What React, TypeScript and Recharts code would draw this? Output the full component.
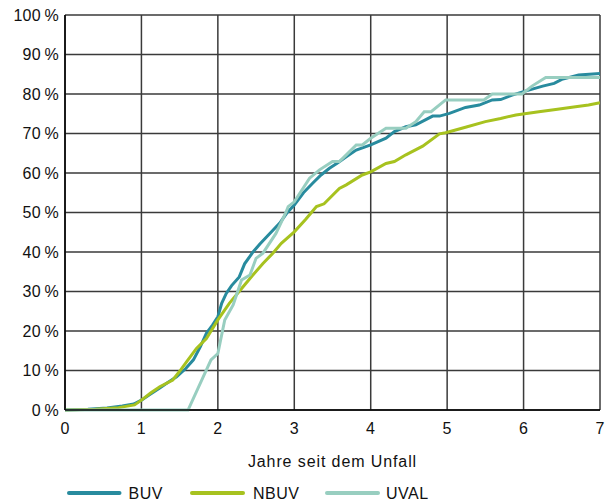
import React from "react";
import {
  CartesianGrid,
  Legend,
  Line,
  LineChart,
  XAxis,
  YAxis,
} from "recharts";

// [years since accident, share in %]
const BUV: [number, number][] = [
  [0, 0], [0.3, 0.2], [0.55, 0.5], [0.75, 1.0], [0.9, 1.5], [1.0, 2.5],
  [1.1, 3.8], [1.24, 5.6], [1.35, 7], [1.46, 8.4], [1.58, 10.5], [1.68, 12.7],
  [1.77, 16], [1.85, 19.4], [1.93, 21.5], [2.0, 23.6], [2.05, 27], [2.11, 29.5],
  [2.18, 31.5], [2.28, 33.7], [2.35, 37], [2.46, 40], [2.55, 42], [2.68, 44.7],
  [2.81, 47.3], [2.9, 49.8], [3.0, 51.9], [3.12, 55], [3.24, 57.4], [3.35, 59.5],
  [3.46, 61.2], [3.57, 62.6], [3.68, 64.1], [3.81, 65.8], [4.0, 67.1], [4.2, 68.8],
  [4.31, 70.5], [4.46, 71.7], [4.59, 72.2], [4.81, 74.4], [4.9, 74.4], [5.03, 75.1],
  [5.24, 76.6], [5.42, 77.2], [5.59, 78.5], [5.7, 78.6], [5.85, 79.7], [6.0, 80.6],
  [6.25, 82], [6.4, 82.7], [6.5, 83.7], [6.72, 84.8], [7.0, 85.2],
];

const NBUV: [number, number][] = [
  [0, 0], [0.4, 0.2], [0.7, 0.6], [0.91, 1.3], [1.0, 2.5], [1.12, 4.3],
  [1.24, 5.9], [1.41, 7.6], [1.5, 9.8], [1.59, 12.2], [1.72, 15.6], [1.85, 18.1],
  [2.0, 22.8], [2.15, 27], [2.33, 31.2], [2.45, 34], [2.59, 37.1], [2.72, 39.7],
  [2.83, 42.2], [3.0, 45.1], [3.15, 48.3], [3.29, 51.5], [3.39, 52.2], [3.59, 56.1],
  [3.68, 57], [3.89, 59.5], [4.0, 60.3], [4.2, 62.4], [4.31, 62.9], [4.46, 64.6],
  [4.68, 66.8], [4.9, 69.9], [4.98, 70.2], [5.24, 71.6], [5.5, 73], [5.7, 73.8],
  [5.9, 74.7], [6.2, 75.5], [6.42, 76.1], [6.68, 76.8], [6.85, 77.2], [7.0, 77.8],
];

const UVAL: [number, number][] = [
  [0, 0], [1.61, 0], [1.91, 12.7], [2.0, 14.3], [2.09, 22.8], [2.2, 26.6],
  [2.31, 32.9], [2.42, 34.2], [2.5, 38.4], [2.59, 39.7], [2.76, 44.7], [2.89, 50],
  [2.92, 51.5], [3.0, 52.7], [3.2, 58.7], [3.33, 60.8], [3.5, 62.9], [3.59, 62.9],
  [3.68, 64.6], [3.81, 67.1], [3.89, 67.1], [4.0, 68.8], [4.2, 71.3], [4.46, 71.3],
  [4.59, 73], [4.7, 75.5], [4.79, 75.5], [4.98, 78.5], [5.48, 78.5], [5.59, 80],
  [5.98, 80], [6.11, 82], [6.29, 84.2], [7.0, 84.2],
];

const xTicks = [0, 1, 2, 3, 4, 5, 6, 7];
const yTicks = [0, 10, 20, 30, 40, 50, 60, 70, 80, 90, 100];

const SERIES = [
  { name: "BUV", points: BUV, color: "#288b9e" },
  { name: "NBUV", points: NBUV, color: "#a7c21f" },
  { name: "UVAL", points: UVAL, color: "#98cec0" },
];

const W = 606;
const H = 502;
const FONT = "'Liberation Sans', Arial, sans-serif";
const TEXT = "#111";
const toRows = (pts: [number, number][]) => pts.map(([x, y]) => ({ x, y }));

const AxisTitle = ({ viewBox }: { viewBox?: { x: number; y: number; width: number } }) => {
  if (!viewBox) return null;
  return (
    <text
      x={viewBox.x + viewBox.width / 2}
      y={viewBox.y + 57}
      textAnchor="middle"
      fontSize={16}
      letterSpacing={0.9}
      fontFamily={FONT}
      fill={TEXT}
    >
      Jahre seit dem Unfall
    </text>
  );
};

// legend entries: line start, line end, text start
const LEGEND_POS = [
  [69, 119.5, 128.5],
  [192, 243, 253],
  [327, 378, 386],
];

const LegendRow = () => (
  <svg width={W} height={22}>
    {SERIES.map((s, i) => (
      <g key={s.name}>
        <line
          x1={LEGEND_POS[i][0]}
          x2={LEGEND_POS[i][1]}
          y1={13}
          y2={13}
          stroke={s.color}
          strokeWidth={4}
          strokeLinecap="round"
        />
        <text
          x={LEGEND_POS[i][2]}
          y={18.5}
          fontSize={16}
          letterSpacing={0.5}
          fontFamily={FONT}
          fill={TEXT}
        >
          {s.name}
        </text>
      </g>
    ))}
  </svg>
);

export default function App() {
  const tickStyle = { fontSize: 16, fontFamily: FONT, fill: TEXT, letterSpacing: 0.3 };
  return (
    <div style={{ position: "absolute", left: 0, top: 0 }}>
      <LineChart
        width={W}
        height={H}
        margin={{ top: 15, right: 6, bottom: 0, left: 0 }}
      >
        <CartesianGrid stroke="#3a3a3a" strokeWidth={1.5} />
        <XAxis
          dataKey="x"
          type="number"
          domain={[0, 7]}
          ticks={xTicks}
          allowDataOverflow
          height={70}
          tickLine={false}
          tickSize={0}
          tickMargin={13}
          axisLine={{ stroke: "#000", strokeWidth: 1.5 }}
          tick={tickStyle}
          label={<AxisTitle />}
        />
        <YAxis
          type="number"
          domain={[0, 100]}
          ticks={yTicks}
          width={65}
          tickLine={false}
          tickSize={0}
          tickMargin={6}
          axisLine={{ stroke: "#000", strokeWidth: 1.5 }}
          tick={tickStyle}
          tickFormatter={(v: number) => `${v}\u2009%`}
        />
        <Legend
          verticalAlign="bottom"
          content={() => <LegendRow />}
          wrapperStyle={{ left: 0, bottom: 0, width: W, height: 22 }}
        />
        {SERIES.map((s) => (
          <Line
            key={s.name}
            name={s.name}
            data={toRows(s.points)}
            dataKey="y"
            type="linear"
            stroke={s.color}
            strokeWidth={3}
            dot={false}
            activeDot={false}
            isAnimationActive={false}
          />
        ))}
      </LineChart>
    </div>
  );
}
